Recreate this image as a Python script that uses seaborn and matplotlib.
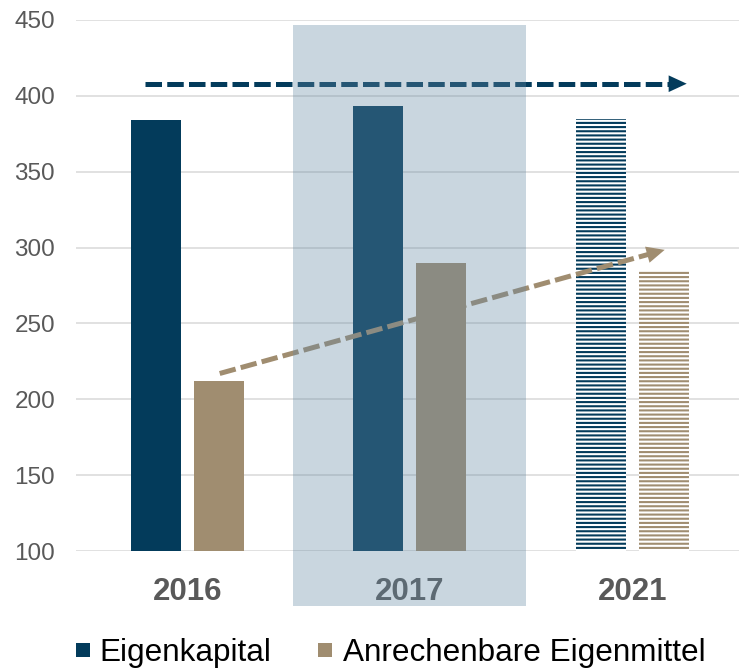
import matplotlib
matplotlib.use("Agg")
import matplotlib.pyplot as plt
import seaborn as sns
import pandas as pd
from matplotlib.patches import Rectangle
from matplotlib.lines import Line2D

# ---- data ----
years = ["2016", "2017", "2021"]
eigenkapital = [384, 393, 385]
anrechenbare = [212, 290, 285]
series_names = ["Eigenkapital", "Anrechenbare Eigenmittel"]
yticks = [100, 150, 200, 250, 300, 350, 400, 450]
hatched_year = "2021"
highlight_year = "2017"
# trend arrows (data coords: x in category units, y in value)
arrow_ek = [(-0.19, 408), (2.245, 408)]
arrow_ae = [(0.146, 217), (2.146, 298.5)]

colors = {"Eigenkapital": "#033B5B", "Anrechenbare Eigenmittel": "#A08D70"}

df = pd.DataFrame({
    "Jahr": years * 2,
    "Wert": eigenkapital + anrechenbare,
    "Serie": [series_names[0]] * len(years) + [series_names[1]] * len(years),
})

sns.set_theme(style="white")
plt.rcParams['font.family'] = ['Liberation Sans', 'DejaVu Sans']
plt.rcParams['hatch.linewidth'] = 1.5

fig = plt.figure(figsize=(7.39, 6.71), dpi=100)
ax = fig.add_axes([76 / 739, (671 - 551) / 671, (739 - 76) / 739, 531 / 671])

sns.barplot(data=df, x="Jahr", y="Wert", hue="Serie", hue_order=series_names,
            order=years, palette=colors, width=0.566, gap=0.2, ax=ax,
            legend=False, saturation=1, linewidth=0, errorbar=None)

# hatched bars for 2021
j = years.index(hatched_year)
for i, name in enumerate(series_names):
    bar = ax.containers[i][j]
    bar.set_facecolor("white")
    bar.set_hatch("----")
    bar.set_edgecolor(colors[name])
    bar.set_linewidth(0)

ax.set_ylim(100, 450)
ax.set_xlim(-0.5, 2.48)
ax.set_yticks(yticks)
ax.yaxis.grid(True, color="#D9D9D9", lw=1.1)
ax.xaxis.grid(False)
ax.set_axisbelow(True)
for s in ax.spines.values():
    s.set_visible(False)
ax.set_xlabel("")
ax.set_ylabel("")
ax.tick_params(axis='y', labelsize=17.5, labelcolor='#595959', length=0, pad=15)
ax.tick_params(axis='x', labelsize=22.5, labelcolor='#595959', length=0, pad=18.5)
for t in ax.get_xticklabels():
    t.set_fontweight('bold')

# trend arrows
def dashed_arrow(pts, color):
    (x0, y0), (x1, y1) = pts
    fx = 0.975
    xe, ye = x0 + (x1 - x0) * fx, y0 + (y1 - y0) * fx
    ax.plot([x0, xe], [y0, ye], color=color, lw=3.6, linestyle=(0, (3.3, 1.05)),
            solid_capstyle='butt', dash_capstyle='butt', zorder=3, clip_on=False)
    ax.annotate("", xy=(x1, y1), xytext=(xe - (x1 - x0) * 0.01, ye - (y1 - y0) * 0.01),
                arrowprops=dict(arrowstyle="-|>,head_length=0.65,head_width=0.3",
                                color=color, lw=0, mutation_scale=20,
                                shrinkA=0, shrinkB=0), zorder=3)

dashed_arrow(arrow_ek, colors["Eigenkapital"])
dashed_arrow(arrow_ae, colors["Anrechenbare Eigenmittel"])

# highlight overlay for 2017
k = years.index(highlight_year)
ax.add_patch(Rectangle((k - 0.526, 63.7), 1.047, 446.7 - 63.7, facecolor="#658AA4",
                       alpha=0.35, lw=0, zorder=4, clip_on=False))

# legend
handles = [Line2D([], [], marker='s', linestyle='none', markersize=9.4,
                  markerfacecolor=colors[n], markeredgewidth=0) for n in series_names]
fig.legend(handles, series_names, loc='center left', bbox_to_anchor=(0.101, 0.027),
           ncol=2, frameon=False, fontsize=22.7, handlelength=0.5, handletextpad=0.3,
           columnspacing=1.45, borderpad=0, borderaxespad=0, labelcolor="black")

fig.savefig("out.png", dpi=100)
